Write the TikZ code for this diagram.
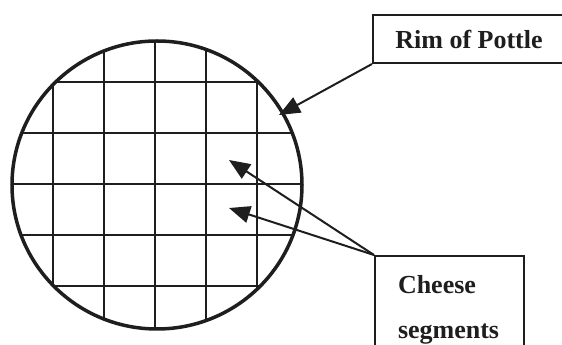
\documentclass[tikz,border=0pt]{standalone}
\usepackage{fontspec}
\setmainfont{Liberation Serif}
\usetikzlibrary{arrows.meta,positioning}
\definecolor{ink}{RGB}{30,30,30}

\begin{document}
\begin{tikzpicture}[x=1pt, y=1pt, every node/.style={font=\fontsize{26}{45}\selectfont\bfseries,text=ink}, box/.style={draw=ink,line width=2pt,fill=white}, grid/.style={ink,line width=2pt}, rim/.style={ink,line width=3.5pt}, arr/.style={-{Triangle[length=21pt,width=17pt]},line width=2pt,ink}]
\useasboundingbox (0,0) rectangle (562,345);
\clip (0,0) rectangle (562,345);
% pottle with its cheese grid
\begin{scope}
\clip (157,160) ellipse [x radius=145pt, y radius=144pt];
\foreach \k in {-2,...,2} {\draw[grid] (155+51*\k,0) -- (155+51*\k,345);\draw[grid] (0,161+51*\k) -- (320,161+51*\k);}
\end{scope}
\draw[rim] (157,160) ellipse [x radius=145pt, y radius=144pt];
% labels
\node[box,minimum width=192pt,minimum height=48pt] (pottle) at (469,306) {Rim of Pottle};
\node[box,anchor=north west,text width=103pt,inner xsep=23pt,inner ysep=19pt,align=left] (cheese) at (374,90) {Cheese\\segments};
\coordinate (rimtip) at (279,230);
\coordinate (segA) at (229,185);
\coordinate (segB) at (229,137);
\draw[arr] (pottle.south west)--(rimtip);\draw[arr] (cheese.north west)--(segA);\draw[arr] (cheese.north west)--(segB);
\end{tikzpicture}
\end{document}
